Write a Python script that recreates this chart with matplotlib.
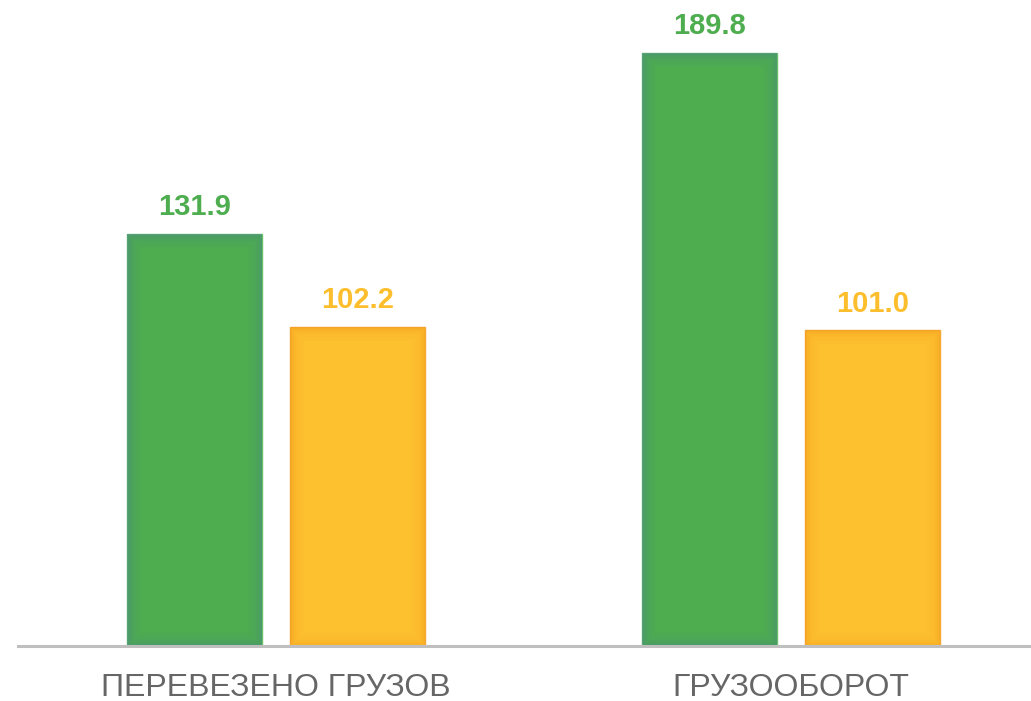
import matplotlib.pyplot as plt
from matplotlib.patches import Rectangle

categories = ['ПЕРЕВЕЗЕНО ГРУЗОВ', 'ГРУЗООБОРОТ']
green_values = [131.9, 189.8]
orange_values = [102.2, 101.0]

plt.rcParams['font.family'] = ['Liberation Sans', 'DejaVu Sans']

green = '#4EAD4F'
green_glow = '#4A8A86'
orange = '#FDC02F'
orange_glow = '#F5A020'

fig = plt.figure(figsize=(10.31, 7.01), dpi=100)
ax = fig.add_axes([18 / 1031, 55 / 701, 1013 / 1031, 646 / 701])

x = [0, 1]
w = 0.262
off = 0.158

bars_g = ax.bar([i - off for i in x], green_values, width=w, color=green,
                edgecolor='#6CC06A', linewidth=1, zorder=2)
bars_o = ax.bar([i + off for i in x], orange_values, width=w, color=orange,
                edgecolor='#F7A733', linewidth=1, zorder=2)

# soft inner glow along bar edges
for bars, glow in [(bars_g, green_glow), (bars_o, orange_glow)]:
    for b in bars:
        for lw, a in [(20, 0.06), (14, 0.08), (9, 0.12), (5, 0.18), (2, 0.25)]:
            r = Rectangle(b.get_xy(), b.get_width(), b.get_height(), fill=False,
                          edgecolor=glow, linewidth=lw, alpha=a, zorder=3)
            ax.add_patch(r)
            r.set_clip_path(b)

for bars, vals, col in [(bars_g, green_values, green), (bars_o, orange_values, '#FDBE2D')]:
    for b, v in zip(bars, vals):
        ax.annotate(f'{v:.1f}', (b.get_x() + b.get_width() / 2, v),
                    xytext=(0, 9), textcoords='offset points',
                    ha='center', va='bottom', fontsize=21, fontweight='bold',
                    color=col)

ax.set_xlim(-0.501, 1.466)
ax.set_ylim(0, 646 / 3.125)
ax.set_xticks(x)
ax.set_xticklabels(categories, fontsize=23, color='#666666')
ax.tick_params(axis='x', length=0, pad=19.5)
ax.set_yticks([])
for s in ['top', 'right', 'left']:
    ax.spines[s].set_visible(False)
ax.spines['bottom'].set_color('#BFBFBF')
ax.spines['bottom'].set_linewidth(2.2)
ax.spines['bottom'].set_zorder(4)

fig.savefig('out.png', dpi=100)
